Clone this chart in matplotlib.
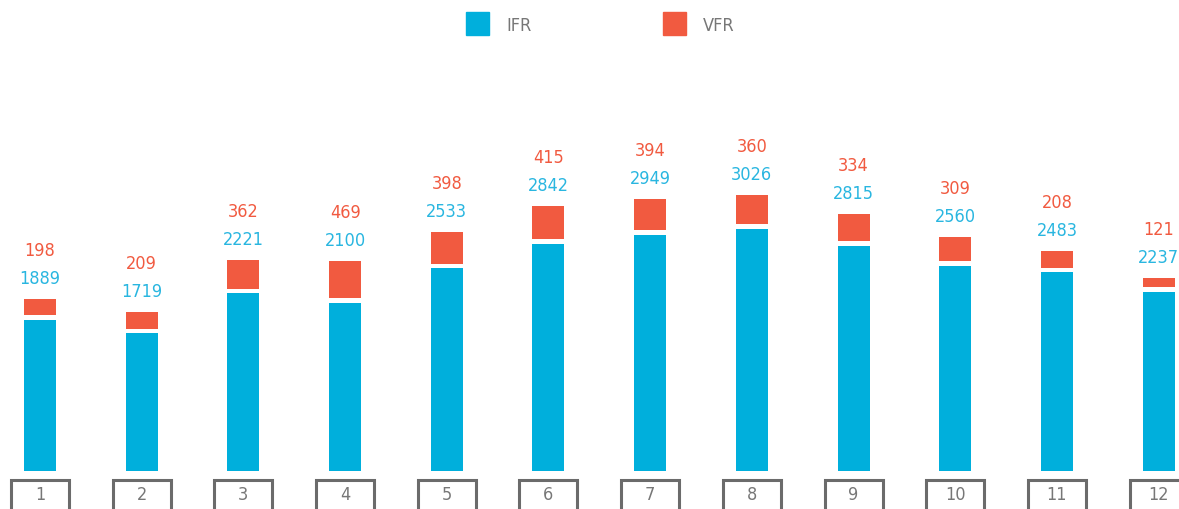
import matplotlib.pyplot as plt
from matplotlib.patches import Rectangle

months = ['1', '2', '3', '4', '5', '6', '7', '8', '9', '10', '11', '12']
ifr = [1889, 1719, 2221, 2100, 2533, 2842, 2949, 3026, 2815, 2560, 2483, 2237]
vfr = [198, 209, 362, 469, 398, 415, 394, 360, 334, 309, 208, 121]

blue = '#00afdc'
red = '#f15a40'
grey = '#6b6b6b'
plt.rcParams['font.family'] = ['DejaVu Sans Condensed', 'Liberation Sans Narrow', 'DejaVu Sans']
plt.rcParams['font.stretch'] = 'condensed'

fig = plt.figure(figsize=(11.79, 5.09), dpi=100)
ax = fig.add_axes([0, 0, 1, 1])
ax.set_xlim(-0.393, 11.2)
ax.set_ylim(-475, 5888)
ax.axis('off')

x = list(range(len(months)))
gap = 60
w = 0.315
ax.bar(x, ifr, width=w, color=blue)
ax.bar(x, vfr, width=w, bottom=[v + gap for v in ifr], color=red)

for i in x:
    top = ifr[i] + gap + vfr[i]
    ax.annotate(str(ifr[i]), (i, top), xytext=(0, 20), textcoords='offset pixels',
                ha='center', va='center', color='#29b6e0', fontsize=13)
    ax.annotate(str(vfr[i]), (i, top), xytext=(0, 48), textcoords='offset pixels',
                ha='center', va='center', color=red, fontsize=13)
    ax.add_patch(Rectangle((i - 0.285, -700), 0.57, 588, fill=False,
                           edgecolor=grey, linewidth=2.2, clip_on=True))
    ax.text(i, -300, months[i], ha='center', va='center', color='#777777', fontsize=13)

# legend
fig.patches.append(Rectangle((466, 509 - 35), 23, 23, transform=None,
                             color=blue, figure=fig))
fig.patches.append(Rectangle((663, 509 - 35), 23, 23, transform=None,
                             color=red, figure=fig))
fig.text(506 / 1179, 1 - 26 / 509, 'IFR', color='#777777', fontsize=13, va='center')
fig.text(703 / 1179, 1 - 26 / 509, 'VFR', color='#777777', fontsize=13, va='center')

fig.savefig('out.png', dpi=100)
